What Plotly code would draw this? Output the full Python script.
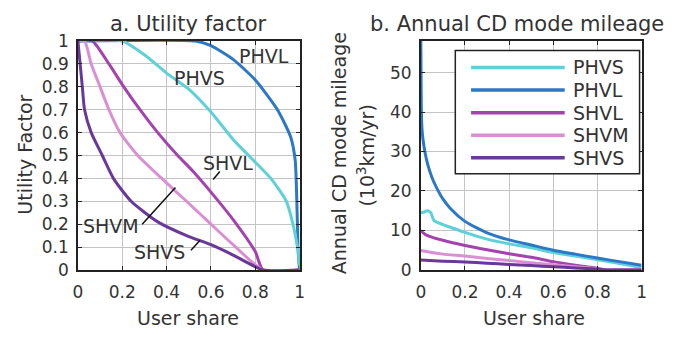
import plotly.graph_objects as go

W, H = 683, 343

# ---------------- data ----------------
series_names = ["PHVS", "PHVL", "SHVL", "SHVM", "SHVS"]
series_colors = ["#5DD0D8", "#2B78C6", "#A442B0", "#DA8FD4", "#6A3898"]

# a. Utility factor (x = user share, y = utility factor)
uf_phvs_x = [0, 0.2, 0.3, 0.4, 0.5, 0.6, 0.7, 0.77, 0.87, 0.94, 0.97, 0.99, 1.0]
uf_phvs_y = [1, 1, 0.94, 0.86, 0.79, 0.69, 0.57, 0.5, 0.4, 0.3, 0.2, 0.1, 0.02]
uf_phvl_x = [0, 0.53, 0.6, 0.7, 0.8, 0.9, 0.96, 0.98, 0.985, 0.99, 0.995, 1.0]
uf_phvl_y = [1, 1, 0.98, 0.92, 0.83, 0.7, 0.58, 0.48, 0.38, 0.2, 0.06, 0.0]
uf_shvl_x = [0, 0.065, 0.14, 0.2, 0.28, 0.36, 0.45, 0.52, 0.6, 0.7, 0.8, 0.835, 1.0]
uf_shvl_y = [1, 1, 0.9, 0.81, 0.7, 0.6, 0.5, 0.43, 0.34, 0.22, 0.08, 0, 0]
uf_shvm_x = [0, 0.03, 0.06, 0.1, 0.14, 0.19, 0.27, 0.4, 0.49, 0.6, 0.7, 0.835, 1.0]
uf_shvm_y = [1, 1, 0.9, 0.8, 0.7, 0.6, 0.5, 0.38, 0.3, 0.2, 0.11, 0, 0]
uf_shvs_x = [0, 0.01, 0.02, 0.03, 0.06, 0.11, 0.16, 0.24, 0.36, 0.49, 0.6, 0.7, 0.835, 1.0]
uf_shvs_y = [1, 0.9, 0.8, 0.7, 0.6, 0.5, 0.4, 0.3, 0.21, 0.15, 0.11, 0.065, 0, 0]

# b. Annual CD mode mileage (10^3 km/yr)
mi_phvs_x = [0, 0.01, 0.03, 0.045, 0.06, 0.1, 0.15, 0.2, 0.3, 0.4, 0.5, 0.6, 0.7, 0.8, 0.9, 1.0]
mi_phvs_y = [14.5, 14.6, 15, 14.5, 12.5, 11.5, 10.5, 9.5, 7.8, 6.6, 5.6, 4.4, 3.5, 2.6, 1.6, 0.6]
mi_phvl_x = [0, 0.002, 0.005, 0.01, 0.02, 0.03, 0.05, 0.07, 0.1, 0.135, 0.2, 0.3, 0.4, 0.5, 0.6, 0.7, 0.8, 0.9, 1.0]
mi_phvl_y = [58, 42, 36, 33, 29.5, 27, 23.5, 21, 18, 15.5, 12.3, 9.4, 7.6, 6.3, 5.0, 4.0, 3.0, 2.1, 1.2]
mi_shvl_x = [0, 0.02, 0.05, 0.1, 0.2, 0.3, 0.4, 0.5, 0.6, 0.7, 0.8, 0.84, 1.0]
mi_shvl_y = [10, 9, 8.3, 7.5, 6.2, 5.1, 4.1, 3.2, 2.1, 1.2, 0.4, 0, 0]
mi_shvm_x = [0, 0.05, 0.1, 0.2, 0.3, 0.4, 0.5, 0.6, 0.7, 0.8, 0.84, 1.0]
mi_shvm_y = [4.9, 4.4, 4.0, 3.5, 2.9, 2.4, 1.8, 1.3, 0.8, 0.3, 0, 0]
mi_shvs_x = [0, 0.1, 0.2, 0.3, 0.4, 0.5, 0.6, 0.7, 0.8, 0.84, 1.0]
mi_shvs_y = [2.5, 2.2, 2.0, 1.7, 1.4, 1.1, 0.8, 0.5, 0.2, 0, 0]

uf_x = [uf_phvs_x, uf_phvl_x, uf_shvl_x, uf_shvm_x, uf_shvs_x]
uf_y = [uf_phvs_y, uf_phvl_y, uf_shvl_y, uf_shvm_y, uf_shvs_y]
mi_x = [mi_phvs_x, mi_phvl_x, mi_shvl_x, mi_shvm_x, mi_shvs_x]
mi_y = [mi_phvs_y, mi_phvl_y, mi_shvl_y, mi_shvm_y, mi_shvs_y]

uf_ticks = [0, 0.1, 0.2, 0.3, 0.4, 0.5, 0.6, 0.7, 0.8, 0.9, 1]
share_ticks = [0, 0.2, 0.4, 0.6, 0.8, 1]
mi_ticks = [0, 10, 20, 30, 40, 50]

# ---------------- figure ----------------
FONT = "DejaVu Sans"
TXT = "#333333"

fig = go.Figure()
draw_order = [1, 0, 2, 3, 4]
for i in draw_order:
    fig.add_trace(go.Scatter(x=uf_x[i], y=uf_y[i], mode="lines", name=series_names[i],
                             line=dict(color=series_colors[i], width=3, shape="spline", smoothing=0.6),
                             xaxis="x", yaxis="y", showlegend=False))
for i in [0, 1, 2, 3, 4]:
    fig.add_trace(go.Scatter(x=mi_x[i], y=mi_y[i], mode="lines", name=series_names[i],
                             line=dict(color=series_colors[i], width=3, shape="spline", smoothing=0.6),
                             xaxis="x2", yaxis="y2", showlegend=False))

def px_x(p):
    return p / W

def px_y(p):
    return 1 - p / H

axis_common = dict(showline=True, linecolor="#222222", linewidth=1.5, mirror="ticks",
                   ticks="inside", ticklen=4, tickcolor="#222222",
                   showgrid=True, gridcolor="#c4c4c4", gridwidth=1, zeroline=False,
                   tickfont=dict(family=FONT, size=17, color=TXT))

fig.update_layout(
    width=W, height=H, margin=dict(l=0, r=0, t=0, b=0),
    paper_bgcolor="white", plot_bgcolor="white",
    xaxis=dict(domain=[px_x(74), px_x(299)], range=[0, 1], tickvals=share_ticks,
               anchor="y", ticklabelstandoff=6, **axis_common),
    yaxis=dict(domain=[px_y(276), px_y(33)], range=[0, 1], tickvals=uf_ticks,
               anchor="x", ticklabelstandoff=4, **axis_common),
    xaxis2=dict(domain=[px_x(422), px_x(646)], range=[0, 1], tickvals=share_ticks,
                anchor="y2", ticklabelstandoff=6, **axis_common),
    yaxis2=dict(domain=[px_y(276), px_y(33)], range=[0, 58], tickvals=mi_ticks,
                anchor="x2", ticklabelstandoff=4, **axis_common),
    font=dict(family=FONT, color=TXT),
)

annotations = []
def ann(text, x, y, size, xref="paper", yref="paper", angle=0, xanchor="center", yanchor="middle"):
    annotations.append(dict(text=text, x=x, y=y, xref=xref, yref=yref, showarrow=False,
                            textangle=angle, xanchor=xanchor, yanchor=yanchor,
                            font=dict(family=FONT, size=size, color=TXT)))

# titles
ann("a. Utility factor", px_x(186), px_y(15), 21)
ann("b. Annual CD mode mileage", px_x(520), px_y(15), 21)
# axis titles
ann("User share", px_x(186), px_y(327), 19)
ann("User share", px_x(537), px_y(327), 19)
ann("Utility Factor", px_x(20), px_y(154), 19, angle=-90)
ann("Annual CD mode mileage", px_x(339), px_y(152), 19, angle=-90)
ann("(10<sup>3</sup>km/yr)", px_x(366), px_y(155), 19, angle=-90)

# inline labels on panel a
ann("PHVL", 0.84, 0.935, 19, xref="x", yref="y")
ann("PHVS", 0.55, 0.84, 19, xref="x", yref="y")
ann("SHVL", 0.675, 0.465, 19, xref="x", yref="y")
ann("SHVM", 0.15, 0.19, 19, xref="x", yref="y")
ann("SHVS", 0.37, 0.08, 19, xref="x", yref="y")

shapes = []
# leader lines
for (x0, y0, x1, y1) in [(0.61, 0.395, 0.64, 0.43), (0.29, 0.2, 0.44, 0.36), (0.51, 0.086, 0.55, 0.128)]:
    shapes.append(dict(type="line", xref="x", yref="y", x0=x0, y0=y0, x1=x1, y1=y1,
                       line=dict(color="#111111", width=1.5)))

# legend box (panel b)
shapes.append(dict(type="rect", xref="paper", yref="paper",
                   x0=px_x(457), x1=px_x(644), y0=px_y(174), y1=px_y(43),
                   line=dict(color="#222222", width=1.5), fillcolor="white", layer="above"))
row0, step = 61, 24
for k, (nm, col) in enumerate(zip(series_names, series_colors)):
    yy = px_y(row0 + k * step)
    shapes.append(dict(type="line", xref="paper", yref="paper", x0=px_x(473), x1=px_x(568),
                       y0=yy, y1=yy, line=dict(color=col, width=3.5), layer="above"))
    ann(nm, px_x(574), yy, 19, xanchor="left")

fig.update_layout(annotations=annotations, shapes=shapes)
fig.write_html("out.html")
